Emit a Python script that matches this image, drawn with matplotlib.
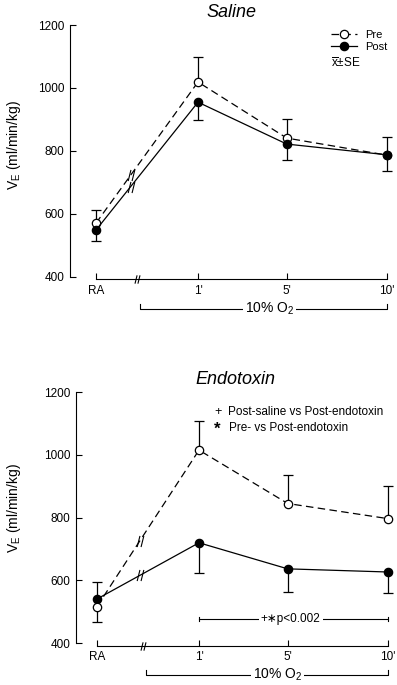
import numpy as np
import matplotlib
matplotlib.use("Agg")
import matplotlib.pyplot as plt
from matplotlib.path import Path
from matplotlib.transforms import blended_transform_factory

plt.rcParams['font.family'] = ['Liberation Sans', 'DejaVu Sans']
plt.rcParams['mathtext.fontset'] = 'custom'
plt.rcParams['mathtext.rm'] = 'Liberation Sans'
plt.rcParams['mathtext.it'] = 'Liberation Sans:italic'

nan = np.nan

# ---- data ----
categories = ["RA", "1'", "5'", "10'"]
yticks = [400, 600, 800, 1000, 1200]

saline_pre = [571, 1019, 841, 787]
saline_post = [549, 955, 822, 788]
saline_pre_se_up = [42, 80, 62, 58]
saline_pre_se_down = [nan, nan, nan, nan]
saline_post_se_up = [nan, nan, nan, nan]
saline_post_se_down = [35, 57, 49, 50]

endo_pre = [517, 1015, 845, 797]
endo_post = [541, 720, 637, 627]
endo_pre_se_up = [nan, 93, 91, 105]
endo_pre_se_down = [50, nan, nan, nan]
endo_post_se_up = [55, nan, nan, nan]
endo_post_se_down = [nan, 97, 75, 68]

# ---- layout ----
x_pos = [0, 1, 1.87, 2.85]
W, H = 397, 685
fig = plt.figure(figsize=(W / 100, H / 100), dpi=100)


def add_ax(left, right, top, bottom):
    return fig.add_axes([left / W, 1 - bottom / H, (right - left) / W, (bottom - top) / H])


def ftext(x, y, s, **kw):
    return fig.text(x / W, 1 - y / H, s, **kw)


brk = Path([(-0.6, -1), (-0.1, 1), (0.1, -1), (0.6, 1)],
           [Path.MOVETO, Path.LINETO, Path.MOVETO, Path.LINETO])

LW = 0.9


def se_bars(ax, y, up, down):
    y = np.asarray(y, float)
    for err, sign in ((np.asarray(up, float), 1), (np.asarray(down, float), -1)):
        ends = y + sign * err
        ax.vlines(x_pos, y, ends, colors='k', lw=LW, zorder=2)
        ax.plot(x_pos, ends, ls='none', marker='_', ms=7, mew=LW, color='k', zorder=2)


def panel(ax, title, pre, post, pre_err, post_err, pre_on_top, xbreak_line, xbreak_axis,
          o2_left, o2_text_x, xleft):
    ax.set_xlim(xleft, 2.92)
    ax.set_ylim(393, 1200)
    for s in ['top', 'right']:
        ax.spines[s].set_visible(False)
    ax.spines['left'].set_bounds(400, 1200)
    ax.spines['bottom'].set_bounds(0, x_pos[-1])
    for s in ['left', 'bottom']:
        ax.spines[s].set_linewidth(0.8)
    ax.set_yticks(yticks)
    ax.set_xticks(x_pos)
    ax.set_xticklabels(categories)
    ax.tick_params(axis='both', direction='in', length=4, width=0.8, labelsize=8.5, pad=4)
    ax.set_title(title, style='italic', fontsize=13, pad=6)

    zp, zq = (4, 3) if pre_on_top else (3, 4)
    se_bars(ax, pre, pre_err[1], pre_err[0])
    se_bars(ax, post, post_err[1], post_err[0])
    lp, = ax.plot(x_pos, pre, color='k', lw=LW, ls=(0, (6, 3.5)), marker='o', ms=6,
                  mfc='white', mec='k', mew=LW, label='Pre', zorder=zp)
    lq, = ax.plot(x_pos, post, color='k', lw=LW, ls='-', marker='o', ms=6,
                  mfc='k', mec='k', mew=LW, label='Post', zorder=zq)
    # break marks on the lines
    for series in (pre, post):
        yb = series[0] + (series[1] - series[0]) * xbreak_line
        ax.plot([xbreak_line], [yb], ls='none', marker=brk, ms=8, mec='k', mew=0.8,
                zorder=5)
    # break mark on x axis
    tb = blended_transform_factory(ax.transData, ax.transAxes)
    ax.plot([xbreak_axis], [0], ls='none', marker=brk, ms=6, mec='k', mew=0.8,
            transform=tb, clip_on=False, zorder=5)
    # 10% O2 bracket
    yb0, yt0 = -0.116, -0.096
    ax.plot([o2_left, o2_left, x_pos[-1], x_pos[-1]], [yt0, yb0, yb0, yt0], color='k',
            lw=0.8, transform=tb, clip_on=False)
    ax.text(o2_text_x, yb0, "10% O$_2$", transform=tb, ha='center', va='center',
            fontsize=10, bbox=dict(facecolor='white', edgecolor='none', pad=1.0))
    return lp, lq


# ---- Saline panel ----
ax1 = add_ax(70, 70 + (2.92 + 26 / 102) * 102, 25, 279.2)
lp, lq = panel(ax1, "Saline", saline_pre, saline_post,
               (saline_pre_se_down, saline_pre_se_up),
               (saline_post_se_down, saline_post_se_up),
               False, 0.34, 0.40, 0.43, 1.70, -26 / 102)
ax1.legend(handles=[lp, lq], loc='upper left', bbox_to_anchor=(331 / W, 1 - 30 / H),
           bbox_transform=fig.transFigure, frameon=False, fontsize=8, handlelength=2.3,
           handletextpad=0.8, labelspacing=0.2, borderpad=0, borderaxespad=0, numpoints=1)
ftext(331, 63, r"$\overline{\mathrm{x}}$±SE", fontsize=8.5, ha='left', va='center')
ftext(14, 145, r"V$_\mathrm{E}$ (ml/min/kg)", fontsize=10, rotation=90,
      ha='center', va='center')

# ---- Endotoxin panel ----
ax2 = add_ax(76, 76 + (2.92 + 21 / 102) * 102, 392, 645.5)
panel(ax2, "Endotoxin", endo_pre, endo_post,
      (endo_pre_se_down, endo_pre_se_up),
      (endo_post_se_down, endo_post_se_up),
      True, 0.42, 0.45, 0.48, 1.77, -21 / 102)
ftext(14, 508, r"V$_\mathrm{E}$ (ml/min/kg)", fontsize=10, rotation=90,
      ha='center', va='center')

# significance bracket
yp = 477
ax2.plot([1, 1], [yp - 7, yp + 7], color='k', lw=0.8)
ax2.plot([x_pos[-1], x_pos[-1]], [yp - 7, yp + 7], color='k', lw=0.8)
ax2.plot([1, x_pos[-1]], [yp, yp], color='k', lw=0.8)
ax2.text(1.9, yp, "+\u2217p<0.002", ha='center', va='center', fontsize=8.5,
         bbox=dict(facecolor='white', edgecolor='none', pad=1.5))

# annotation key
ftext(214, 412, "+", fontsize=9, ha='left', va='center')
ftext(228, 412, "Post-saline vs Post-endotoxin", fontsize=8.5, ha='left', va='center')
ftext(214, 429, "*", fontsize=12, fontweight='bold', ha='left', va='center')
ftext(229, 428, "Pre- vs Post-endotoxin", fontsize=8.5, ha='left', va='center')

fig.savefig("out.png", dpi=100)
